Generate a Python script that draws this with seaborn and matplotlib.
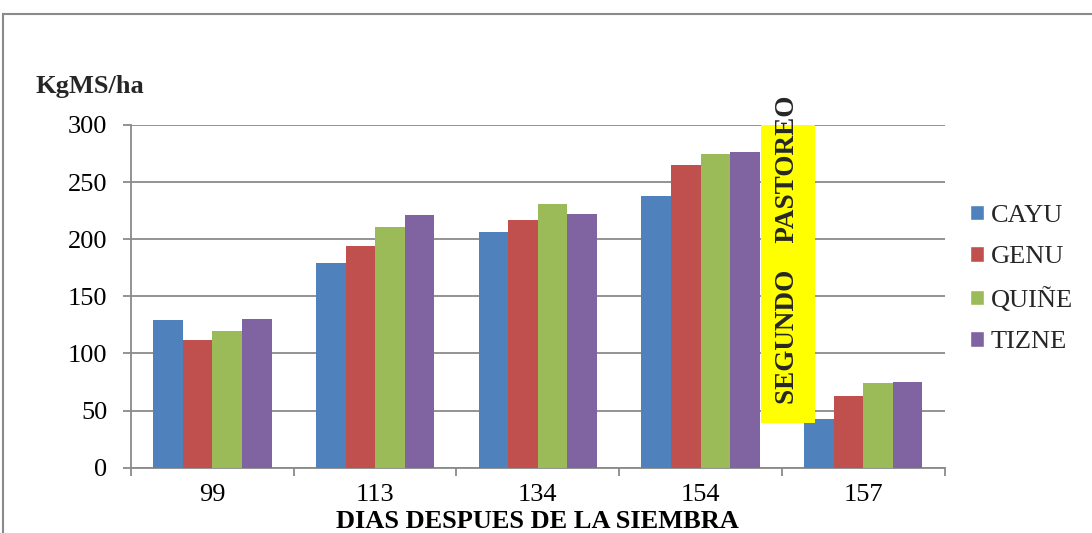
import matplotlib
matplotlib.use("Agg")
import matplotlib.pyplot as plt
from matplotlib.patches import Rectangle
import seaborn as sns
import pandas as pd

# Forage yield by sowing-age and cultivar
dias = ["99", "113", "134", "154", "157"]
cayu = [129, 179, 206, 238, 43]
genu = [112, 194, 217, 265, 63]
quine = [120, 211, 231, 275, 74]
tizne = [130, 221, 222, 276, 75]
variedades = ["CAYU", "GENU", "QUIÑE", "TIZNE"]
colores = ["#4F81BD", "#C0504D", "#9BBB59", "#8064A2"]
y_ticks = [0, 50, 100, 150, 200, 250, 300]

series = {"CAYU": cayu, "GENU": genu, "QUIÑE": quine, "TIZNE": tizne}
df = pd.DataFrame(
    [(d, v, series[v][i]) for v in variedades for i, d in enumerate(dias)],
    columns=["dias", "variedad", "kgms"],
)

sns.set_theme(style="white")
plt.rcParams["font.family"] = ["Liberation Serif", "DejaVu Serif"]

FS = 19
fig = plt.figure(figsize=(10.92, 5.33), dpi=100)
ax = fig.add_axes([0.12, 0.1225, 0.745, 0.643])

sns.barplot(data=df, x="dias", y="kgms", hue="variedad", order=dias,
            hue_order=variedades, palette=colores, width=0.727, gap=0,
            saturation=1, linewidth=0, ax=ax, legend=False, zorder=3)

ax.set_ylim(0, 300)
ax.set_xlim(-0.5, len(dias) - 0.5)
ax.set_yticks(y_ticks)
ax.yaxis.grid(True, color="#8a8a8a", linewidth=1.3, zorder=0)
ax.set_axisbelow(True)
for s in ["top", "right"]:
    ax.spines[s].set_visible(False)
for s in ["left", "bottom"]:
    ax.spines[s].set_color("#8a8a8a")
    ax.spines[s].set_linewidth(1.3)

# category-boundary tick marks like a spreadsheet axis
ax.set_xticks([i - 0.5 for i in range(len(dias) + 1)], minor=True)
ax.tick_params(axis="x", which="major", length=0, labelsize=FS, pad=12,
               colors="black")
ax.tick_params(axis="x", which="minor", length=6, width=1.3,
               color="#8a8a8a", direction="out", bottom=True)
ax.tick_params(axis="y", which="major", length=6, width=1.3,
               color="#8a8a8a", direction="out", labelsize=FS, pad=11,
               labelcolor="black", left=True)

ax.set_xlabel("DIAS DESPUES DE LA SIEMBRA", fontsize=FS, fontweight="bold",
              color="black")
ax.xaxis.set_label_coords(0.5, -0.158)
ax.xaxis.label.set_va("center")
ax.set_ylabel("")
fig.text(35 / 1092, 1 - 86 / 533, "KgMS/ha", fontsize=FS, fontweight="bold",
         va="center", ha="left")

# grazing event marker
ax.add_patch(Rectangle((3.374, 39), 0.332, 261, facecolor="#FFFF00",
                       edgecolor="none", zorder=4))
ax.text(3.535, 56, "SEGUNDO    PASTOREO", rotation=90, ha="center",
        va="bottom", fontsize=19.5, fontweight="bold", zorder=5,
        clip_on=False)

handles = [Rectangle((0, 0), 1, 1, facecolor=c) for c in colores]
fig.legend(handles, variedades, loc="center left",
           bbox_to_anchor=(970 / 1092, 1 - 279 / 533), frameon=False,
           fontsize=FS, handlelength=0.53, handleheight=0.53,
           handletextpad=0.25, labelspacing=0.72, borderpad=0,
           borderaxespad=0)

# outer chart frame
fig.patches.append(Rectangle((3 / 1092, -0.05), 1.1, 1 - 14 / 533 + 0.05,
                             transform=fig.transFigure, fill=False,
                             edgecolor="#8a8a8a", linewidth=1.5))

fig.savefig("out.png", dpi=100)
